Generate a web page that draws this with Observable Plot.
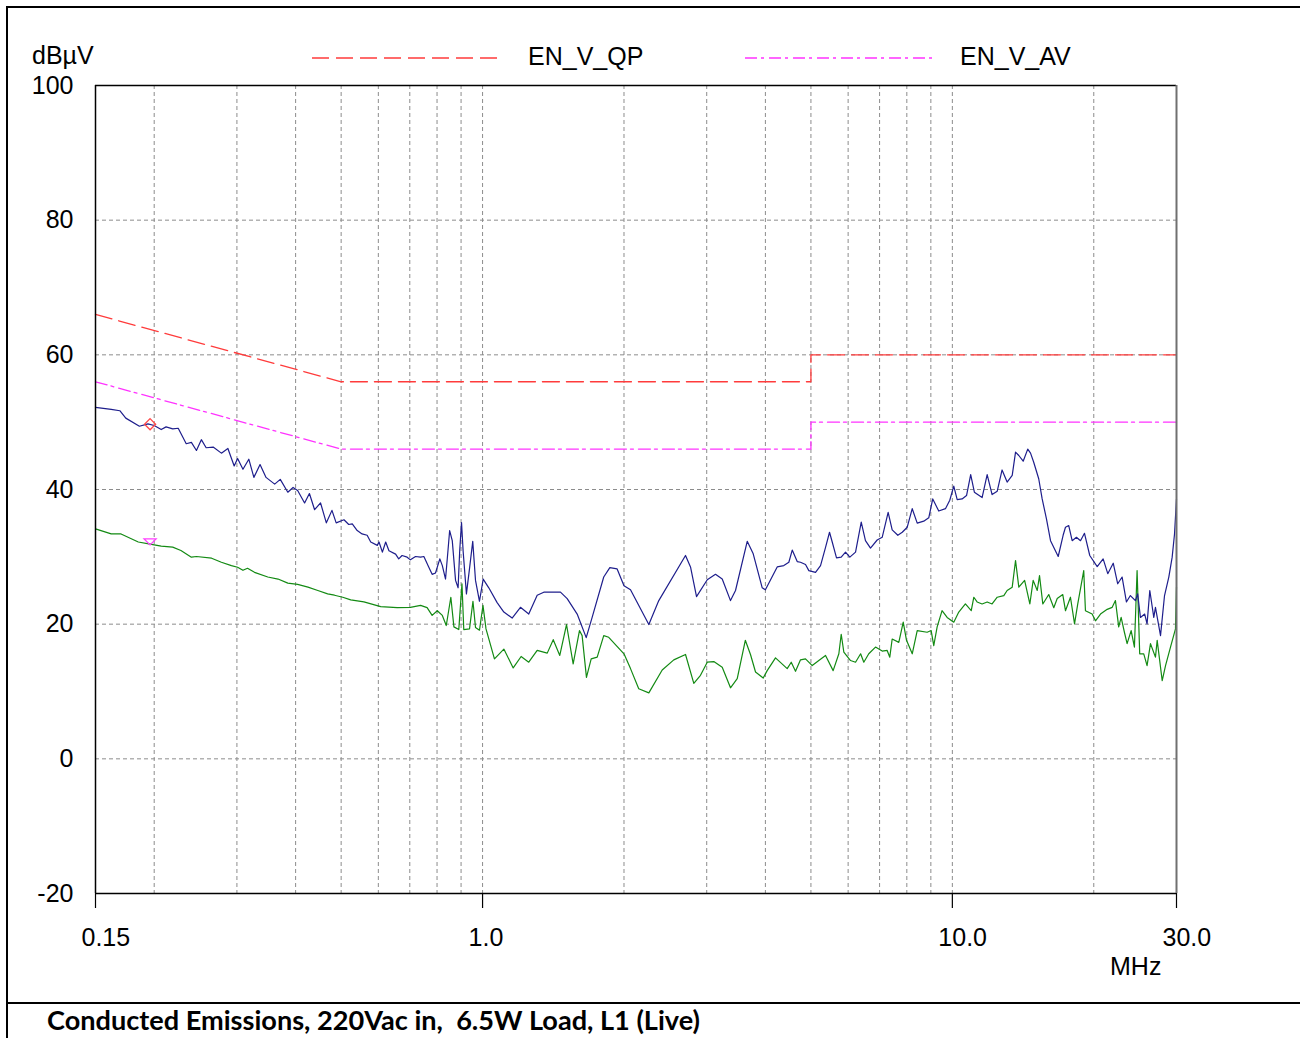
<!DOCTYPE html>
<html><head><meta charset="utf-8">
<script src="https://cdn.jsdelivr.net/npm/d3@7"></script>
<script src="https://cdn.jsdelivr.net/npm/@observablehq/plot@0.6"></script>
<style>
body{margin:0;background:#fff;}
#wrap{position:relative;width:1300px;height:1038px;overflow:hidden;font-family:"Liberation Sans",Arial,sans-serif;background:#fff;}
.lbl{position:absolute;font-size:25px;color:#000;line-height:1;white-space:pre;}
#caption{position:absolute;left:47px;top:1007px;font-family:Lato,"Open Sans",sans-serif;font-weight:700;font-size:26px;line-height:1;white-space:pre;transform-origin:0 0;color:#000;}
</style></head><body>
<div id="wrap">
  <div id="chart" style="position:absolute;left:0;top:0"></div>
  <div style="position:absolute;left:6px;top:6px;width:1300px;height:2px;background:#000"></div>
  <div style="position:absolute;left:6px;top:6px;width:2px;height:1040px;background:#000"></div>
  <div style="position:absolute;left:6px;top:1002px;width:1300px;height:2px;background:#000"></div>
  <div class="lbl" style="left:32px;top:43px">dBµV</div>
  <div class="lbl" style="left:1110px;top:954px">MHz</div>
  <svg style="position:absolute;left:0;top:0" width="1300" height="80">
    <line x1="312" y1="58" x2="502" y2="58" stroke="#ff3b3b" stroke-width="1.3" stroke-dasharray="17,7"/>
    <line x1="745" y1="58" x2="935" y2="58" stroke="#ff33ff" stroke-width="1.3" stroke-dasharray="12,4,3,5"/>
  </svg>
  <div class="lbl" style="left:528px;top:44px">EN_V_QP</div>
  <div class="lbl" style="left:960px;top:44px">EN_V_AV</div>
  <div id="caption">Conducted Emissions, 220Vac in,  6.5W Load, L1 (Live)</div>
</div>
<script>
// Limit lines (EN55022 class B, conducted)
const limitFreq = [0.15, 0.5, 5, 5, 30];
const qpLimit = [66, 56, 56, 60, 60];
const avLimit = [56, 46, 46, 50, 50];

// Quasi-peak measured trace (blue)
const qpTraceFreq = [
0.15,0.162,0.169,0.174,0.186,0.194,0.200,0.207,0.212,0.219,
0.225,0.234,0.240,0.246,0.252,0.258,0.267,0.278,0.287,0.296,
0.301,0.309,0.318,0.326,0.336,0.346,0.361,0.371,0.385,0.395,
0.404,0.418,0.428,0.439,0.452,0.465,0.478,0.488,0.507,0.519,
0.528,0.541,0.554,0.568,0.578,0.597,0.602,0.612,0.622,0.632,
0.653,0.663,0.674,0.691,0.702,0.720,0.738,0.750,0.768,0.781,
0.794,0.811,0.821,0.834,0.844,0.851,0.862,0.876,0.887,0.894,
0.902,0.909,0.924,0.939,0.953,0.966,0.985,1.003,1.031,1.074,
1.110,1.156,1.204,1.254,1.307,1.350,1.465,1.514,1.590,1.662,
1.711,1.811,1.866,1.934,2.000,2.065,2.259,2.372,2.704,2.771,
2.854,3.008,3.132,3.237,3.371,3.455,3.659,3.768,3.938,4.000,
4.238,4.378,4.487,4.562,4.675,4.751,4.869,4.949,5.114,5.241,
5.371,5.477,5.550,5.668,5.800,5.924,6.050,6.222,6.398,6.532,
6.695,6.918,7.090,7.300,7.446,7.655,7.822,8.016,8.215,8.418,
8.692,8.908,9.084,9.355,9.668,9.874,10.07,10.24,10.49,10.72,
10.94,11.14,11.57,11.86,12.15,12.46,12.76,13.08,13.41,13.63,
13.85,14.15,14.47,14.67,14.90,15.27,15.53,15.86,16.18,16.80,
17.21,17.41,17.69,17.99,18.37,18.74,19.11,19.61,20.34,20.94,
21.42,22.00,22.49,22.98,23.47,23.93,24.53,24.80,25.14,25.67,
25.97,26.32,26.84,27.06,27.74,28.29,28.89,29.37,29.71,30.00];
const qpTraceDb = [
52.2,51.9,51.7,50.6,49.4,49.75,49.5,48.9,49.3,49.0,
49.1,46.8,47.0,45.8,47.4,46.2,46.3,45.4,46.1,43.5,
44.6,43.0,44.5,41.8,43.7,41.8,40.8,41.5,39.6,40.3,
39.85,38.0,39.4,37.0,38.0,35.05,36.9,35.05,35.5,34.8,
34.9,33.9,33.4,33.2,32.2,31.7,32.2,30.7,32.2,30.9,
30.4,29.7,30.2,29.95,29.55,30.05,29.95,30.05,28.5,27.4,
27.6,29.7,28.7,26.7,30.9,33.9,32.4,26.5,25.4,30.9,
35.1,30.9,24.5,28.5,32.3,26.5,23.4,26.7,25.4,23.2,
21.8,20.9,22.5,21.5,24.3,24.75,24.75,23.8,21.5,18.0,
21.0,27.0,28.4,28.2,25.7,25.1,19.95,23.5,30.2,28.5,
24.1,26.6,27.4,26.7,23.5,25.0,32.3,30.45,25.4,25.1,
28.5,28.7,29.2,31.0,29.3,29.2,28.85,27.95,27.7,28.7,
31.4,33.65,32.2,29.85,29.95,30.7,29.95,30.7,35.15,32.4,
31.3,32.5,32.9,36.6,34.0,33.2,33.65,34.4,37.15,35.0,
35.3,35.8,38.6,36.8,37.15,38.4,40.5,38.5,38.6,39.1,
42.2,39.6,38.8,42.2,39.25,39.75,42.9,41.1,42.1,45.55,
45.05,44.2,46.0,45.4,44.05,41.6,38.6,35.65,32.4,30.05,
33.2,34.4,34.65,32.4,32.9,32.4,33.5,30.2,28.55,29.7,
27.5,29.05,26.0,27.0,23.3,24.25,23.5,24.5,21.0,21.5,
20.05,25.0,21.0,22.5,18.3,24.25,27.0,29.95,33.4,38.6];

// Average measured trace (green)
const avTraceFreq = [
0.15,0.162,0.170,0.185,0.196,0.207,0.219,0.228,0.240,0.246,
0.265,0.278,0.292,0.301,0.309,0.316,0.327,0.349,0.367,0.385,
0.404,0.425,0.446,0.468,0.484,0.504,0.524,0.559,0.607,0.658,
0.702,0.738,0.762,0.781,0.801,0.821,0.837,0.856,0.869,0.890,
0.904,0.912,0.938,0.954,0.966,0.985,1.002,1.017,1.060,1.110,
1.162,1.208,1.254,1.307,1.373,1.414,1.460,1.509,1.559,1.608,
1.629,1.664,1.703,1.754,1.811,1.856,2.000,2.065,2.150,2.259,
2.412,2.553,2.704,2.816,2.910,3.008,3.106,3.237,3.371,3.484,
3.625,3.718,3.811,3.957,4.035,4.203,4.451,4.540,4.636,4.751,
4.869,5.032,5.197,5.371,5.575,5.733,5.800,5.875,6.071,6.222,
6.379,6.479,6.639,6.861,7.090,7.265,7.359,7.446,7.692,7.860,
7.988,8.215,8.418,8.838,9.013,9.129,9.282,9.508,9.748,10.07,
10.32,10.66,10.97,11.11,11.29,11.57,11.86,12.15,12.46,12.87,
13.08,13.41,13.63,13.85,14.25,14.62,14.86,15.16,15.33,15.58,
16.04,16.44,16.72,17.18,17.41,17.84,18.20,18.49,19.04,19.20,
19.84,20.17,20.67,21.36,21.89,22.24,22.60,22.87,23.24,23.55,
24.02,24.41,24.73,25.05,25.55,25.97,26.41,27.06,27.29,27.97,
28.43,29.13,29.85,30.00];
const avTraceDb = [
34.15,33.4,33.4,32.2,31.9,31.6,31.45,30.95,29.95,30.05,
29.8,29.2,28.7,28.45,28.0,28.3,27.7,27.0,26.7,26.1,
25.9,25.5,25.0,24.5,24.3,24.0,23.6,23.3,22.6,22.45,
22.5,22.8,22.45,21.3,22.0,21.3,19.8,24.0,19.6,19.2,
26.0,19.2,19.3,23.4,19.5,19.1,22.8,19.3,14.85,16.3,
13.5,15.2,14.35,16.1,15.7,17.7,15.35,19.95,14.1,19.05,
18.3,12.1,14.85,15.1,18.3,18.05,15.6,13.4,10.4,9.8,
13.2,14.7,15.5,11.2,12.4,14.35,14.45,13.6,10.55,11.9,
17.6,15.5,12.9,12.0,13.1,15.0,13.4,14.35,13.0,14.7,
14.85,13.85,14.6,15.35,13.1,15.6,18.5,15.85,14.6,14.35,
15.6,14.35,15.6,16.6,16.0,16.1,15.1,17.8,17.3,20.3,
17.6,15.6,19.05,18.8,19.05,16.8,19.6,22.0,21.0,20.3,
21.8,23.0,22.0,24.0,23.3,23.0,23.3,23.0,24.0,24.25,
25.0,25.5,29.45,25.5,26.5,23.0,26.5,25.0,27.2,23.0,
24.4,22.45,23.8,24.4,22.0,24.0,20.05,23.0,27.95,22.0,
21.5,20.5,21.5,22.2,22.5,23.5,19.6,21.0,18.8,17.1,
19.05,16.6,27.95,15.6,15.6,13.85,17.1,15.1,17.6,11.6,
13.85,16.6,19.3,25.5];

// Markers
const markerFreq = [0.196];
const qpMarkerDb = [49.7];
const avMarkerDb = [32.3];

// Axes / grid
const xDomain = [0.15, 30];
const yDomain = [-20, 100];
const gridFreqs = [0.2,0.3,0.4,0.5,0.6,0.7,0.8,0.9,1,2,3,4,5,6,7,8,9,10,20];
const gridDb = [0, 20, 40, 60, 80];
const xTickVals = [0.15, 1, 10, 30];
const xTickLabels = ["0.15", "1.0", "10.0", "30.0"];
const yTickVals = [-20, 0, 20, 40, 60, 80, 100];

const rows = (fs, vs) => fs.map((f, i) => ({f, v: vs[i]}));

const invTriangle = {
  draw(ctx) { ctx.moveTo(-6, -2.5); ctx.lineTo(6, -2.5); ctx.lineTo(0, 3.5); ctx.closePath(); }
};

const chart = Plot.plot({
  width: 1300, height: 1003,
  marginLeft: 95, marginRight: 124, marginTop: 85, marginBottom: 110,
  x: {type: "log", domain: xDomain, axis: null},
  y: {domain: yDomain, axis: null},
  style: {fontFamily: "'Liberation Sans', Arial, sans-serif", fontSize: "25px", background: "transparent", overflow: "visible", color: "black"},
  marks: [
    Plot.ruleX(gridFreqs, {x: d => d, stroke: "#8c8c8c", strokeDasharray: "4,3", strokeWidth: 1}),
    Plot.ruleY(gridDb, {y: d => d, stroke: "#8c8c8c", strokeDasharray: "4,3", strokeWidth: 1}),
    Plot.line(rows(limitFreq, qpLimit), {x: "f", y: "v", stroke: "#ff3b3b", strokeWidth: 1.3, strokeDasharray: "17,7"}),
    Plot.line(rows(limitFreq, avLimit), {x: "f", y: "v", stroke: "#ff33ff", strokeWidth: 1.3, strokeDasharray: "12,4,3,5"}),
    Plot.line(rows(avTraceFreq, avTraceDb), {x: "f", y: "v", stroke: "#138a13", strokeWidth: 1.2}),
    Plot.line(rows(qpTraceFreq, qpTraceDb), {x: "f", y: "v", stroke: "#1e1e8c", strokeWidth: 1.2}),
    Plot.dot(rows(markerFreq, qpMarkerDb), {x: "f", y: "v", symbol: "diamond2", r: 5, stroke: "#ff4848", fill: "none", strokeWidth: 1.3}),
    Plot.dot(rows(markerFreq, avMarkerDb), {x: "f", y: "v", symbol: invTriangle, stroke: "#ff40ff", fill: "none", strokeWidth: 1.3}),
    Plot.ruleY([yDomain[1]], {stroke: "black", strokeWidth: 1.5}),
    Plot.ruleY([yDomain[0]], {stroke: "black", strokeWidth: 1.5}),
    Plot.ruleX([xDomain[0]], {stroke: "black", strokeWidth: 1.5}),
    Plot.ruleX([xDomain[1]], {stroke: "#707070", strokeWidth: 2}),
    Plot.axisX(xTickVals, {tickSize: 15, tickFormat: () => "", label: null, stroke: "black", strokeWidth: 1.2}),
    Plot.text(xTickVals, {x: d => d, text: (d, i) => xTickLabels[i], frameAnchor: "bottom", textAnchor: "start", dx: -14, dy: 52, fontSize: 25, fill: "black"}),
    Plot.text(yTickVals, {y: d => d, text: d => String(d), frameAnchor: "left", textAnchor: "end", dx: -22, fontSize: 25, fill: "black"})
  ]
});
document.getElementById("chart").appendChild(chart);

// fit caption width to reference line length
const cap = document.getElementById("caption");
const w = cap.getBoundingClientRect().width;
cap.style.transform = `scaleX(${653 / w})`;
</script>
</body></html>
